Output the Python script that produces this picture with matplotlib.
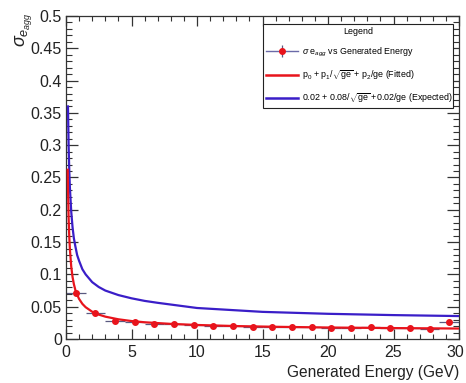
import matplotlib
matplotlib.use("Agg")
import matplotlib.pyplot as plt
from matplotlib.lines import Line2D
from matplotlib.ticker import MultipleLocator, FuncFormatter

# ---- data ----
energy = [0.75, 2.25, 3.75, 5.25, 6.75, 8.25, 9.75, 11.25, 12.75, 14.25,
          15.75, 17.25, 18.75, 20.25, 21.75, 23.25, 24.75, 26.25, 27.75, 29.25]
sigma = [0.0717, 0.040, 0.0285, 0.0265, 0.0238, 0.0233, 0.0217, 0.0196, 0.020, 0.019,
         0.019, 0.0185, 0.018, 0.0175, 0.017, 0.0185, 0.0165, 0.0165, 0.015, 0.026]
energy_err = [0.75] * 20
sigma_err = [0.002, 0.002, 0.0015, 0.0015, 0.0015, 0.0015, 0.0015, 0.0015, 0.0015, 0.0015,
             0.0015, 0.0015, 0.0015, 0.0015, 0.0015, 0.0015, 0.0015, 0.0015, 0.0015, 0.004]

fit_x = [0.13, 0.15, 0.2, 0.25, 0.3, 0.4, 0.5, 0.6, 0.75, 1.0, 1.25, 1.5, 2.0, 2.5, 3.0,
         4.0, 5.0, 6.0, 8.0, 10.0, 13.0, 16.0, 20.0, 25.0, 30.0]
fit_y = [0.262, 0.234, 0.187, 0.158, 0.138, 0.112, 0.096, 0.085, 0.073, 0.062, 0.0544,
         0.0492, 0.0422, 0.0378, 0.0346, 0.0305, 0.0278, 0.0259, 0.0234, 0.0217, 0.0200,
         0.0189, 0.0178, 0.0169, 0.0162]

exp_x = [0.15, 0.2, 0.25, 0.3, 0.4, 0.5, 0.6, 0.7, 0.85, 1.0, 1.25, 1.5, 2.0, 2.5, 3.0,
         4.0, 5.0, 6.0, 7.0, 8.5, 10.0, 12.5, 15.0, 20.0, 25.0, 30.0]
exp_y = [0.360, 0.299, 0.260, 0.233, 0.197, 0.173, 0.156, 0.145, 0.130, 0.121, 0.108,
         0.100, 0.088, 0.0805, 0.075, 0.068, 0.063, 0.059, 0.056, 0.052, 0.048, 0.045,
         0.042, 0.039, 0.037, 0.0355]

x_max = 30

legend_labels = [r"$\sigma$ e$_{agg}$ vs Generated Energy",
                 r"p$_0$ + p$_1$/$\sqrt{\mathrm{ge}}$ + p$_2$/ge (Fitted)",
                 r"0.02 + 0.08/$\sqrt{\mathrm{ge}}$ +0.02/ge (Expected)"]

plt.rcParams['font.family'] = ['Liberation Sans', 'DejaVu Sans']
plt.rcParams['mathtext.fontset'] = 'custom'
plt.rcParams['mathtext.rm'] = 'Liberation Sans'
plt.rcParams['mathtext.it'] = 'Liberation Sans:italic'
plt.rcParams['mathtext.sf'] = 'Liberation Sans'

W, H = 466, 383
fig = plt.figure(figsize=(W / 100, H / 100), dpi=100)
ax = fig.add_axes([66 / W, 1 - 339 / H, (459 - 66) / W, (339 - 16) / H])

red = '#e8141c'
blue = '#3a1ec8'
errc = '#5a5a80'

ax.plot(exp_x, exp_y, color=blue, lw=1.6, zorder=3)
ax.errorbar(energy, sigma, xerr=energy_err, yerr=sigma_err, fmt='none',
            ecolor=errc, elinewidth=0.9, capsize=0, zorder=2)
ax.plot(fit_x, fit_y, color=red, lw=1.6, zorder=4)
ax.plot(energy, sigma, 'o', color=red, ms=4, zorder=5)

ax.set_xlim(0, x_max)
ax.set_ylim(0, 0.5)
ax.xaxis.set_major_locator(MultipleLocator(5))
ax.xaxis.set_minor_locator(MultipleLocator(1))
ax.yaxis.set_major_locator(MultipleLocator(0.05))
ax.yaxis.set_minor_locator(MultipleLocator(0.01))
ax.yaxis.set_major_formatter(FuncFormatter(lambda v, p: f"{v:g}"))
# last x label drawn separately, nudged left so it stays inside the canvas
ax.xaxis.set_major_formatter(FuncFormatter(lambda v, p: "" if v >= x_max else f"{v:g}"))

fc = '#333333'
for s in ax.spines.values():
    s.set_color(fc)
    s.set_linewidth(0.9)
ax.tick_params(which='both', direction='in', top=True, right=True, color=fc,
               labelsize=11.5, labelcolor='#222222')
ax.tick_params(axis='y', which='major', length=8.5, width=0.9, pad=3)
ax.tick_params(axis='y', which='minor', length=4.3, width=0.8)
ax.tick_params(axis='x', which='major', length=7, width=0.9, pad=4)
ax.tick_params(axis='x', which='minor', length=3.6, width=0.8)

ax.annotate(f"{x_max:g}", xy=(x_max, 0), xycoords='data', xytext=(-2.5, -4),
            textcoords='offset points', ha='center', va='top', fontsize=11.5,
            color='#222222', annotation_clip=False)

fig.text(459 / W, 1 - 372 / H, "Generated Energy (GeV)", ha='right', va='center',
         fontsize=11.2, color='#222222')
fig.text(24 / W, 1 - 12 / H, r"$\sigma_{e_{agg}}$", rotation=90, ha='center', va='top',
         fontsize=13, color='#222222')

h1 = (Line2D([], [], color='#6a6aa8', lw=1.0),
      Line2D([], [], ls='none', marker='|', color=errc, ms=8, mew=0.9),
      Line2D([], [], ls='none', marker='o', color=red, ms=4))
h2 = Line2D([], [], color=red, lw=1.8)
h3 = Line2D([], [], color=blue, lw=1.8)
lx0 = (263 - 66) / 393
ly0 = (339 - 108) / 323
lw_ = (453 - 263) / 393
lh_ = (108 - 24) / 323
leg = ax.legend([h1, h2, h3], legend_labels, loc='upper left',
                bbox_to_anchor=(lx0, ly0, lw_, lh_),
                mode='expand', borderaxespad=0, title='Legend', title_fontsize=6.4,
                fontsize=6.4, fancybox=False, edgecolor='#222222', framealpha=1,
                handlelength=3.6, handletextpad=0.5, labelspacing=1.1, borderpad=0.3)
leg.get_frame().set_linewidth(0.8)

fig.savefig('out.png', dpi=100)
